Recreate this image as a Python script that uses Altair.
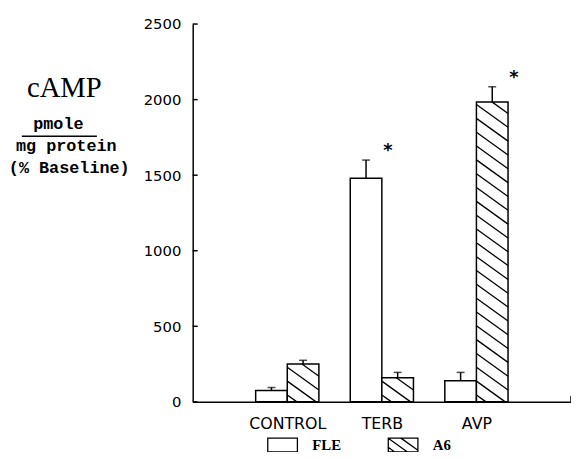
import altair as alt
import pandas as pd

# ---- data ----
groups = ["CONTROL", "TERB", "AVP"]
series = ["FLE", "A6"]
fle_mean = [75, 1480, 140]
fle_err = [20, 120, 55]
a6_mean = [250, 160, 1985]
a6_err = [25, 35, 100]
fle_sig = ["", "*", ""]
a6_sig = ["", "", "*"]
y_ticks = [0, 500, 1000, 1500, 2000, 2500]
title_main = "cAMP"
title_num = "pmole"
title_den = ["mg protein", "(% Baseline)"]

# ---- layout constants ----
W, H = 383, 382.5
XMAX, YMAX = 4, 2500
KX, KY = W / XMAX, H / YMAX
BAR_PX = 32
BW = BAR_PX / KX
HATCH_GAP, HATCH_SLOPE = 14, 0.72

bars = []
for i, g in enumerate(groups):
    for s, m, e, sig, off in (("FLE", fle_mean, fle_err, fle_sig, -1),
                              ("A6", a6_mean, a6_err, a6_sig, 0)):
        x0 = i + 1 + off * BW
        bars.append({"group": g, "series": s, "x0": x0, "x1": x0 + BW,
                     "xc": x0 + BW / 2, "mean": m[i], "top": m[i] + e[i],
                     "sig": sig[i]})
bars_df = pd.DataFrame(bars)


def hatch_segments(height, width, gap, slope):
    segs = []
    c = gap / 2
    while c < height + slope * width:
        u0 = max(0.0, (c - height) / slope)
        u1 = min(width, c / slope)
        if u1 - u0 > 0.3:
            segs.append((u0, c - slope * u0, u1, c - slope * u1))
        c += gap
    return segs


hatch_rows = []
for b in bars:
    if b["series"] != "A6":
        continue
    for u0, t0, u1, t1 in hatch_segments(b["mean"] * KY, BAR_PX, HATCH_GAP, HATCH_SLOPE):
        hatch_rows.append({"x": b["x0"] + u0 / KX, "y": t0 / KY,
                           "x2": b["x0"] + u1 / KX, "y2": t1 / KY})
hatch_df = pd.DataFrame(hatch_rows)

# legend symbol paths (unit box, scaled by sqrt(size)/2)
HW, HH = 1.0, 7 / 15


def box_path(hatched):
    p = f"M{-HW},{-HH}H{HW}V{HH}H{-HW}Z"
    if hatched:
        for u0, t0, u1, t1 in hatch_segments(2 * HH, 2 * HW, 0.62, HATCH_SLOPE):
            p += f"M{u0 - HW:.3f},{HH - t0:.3f}L{u1 - HW:.3f},{HH - t1:.3f}"
    return p


shape_range = [box_path(False), box_path(True)]

xs = alt.Scale(domain=[0, XMAX], nice=False, zero=False)
ys = alt.Scale(domain=[0, YMAX], nice=False)
label_expr = "[" + ",".join(["''"] + [f"'{g}'" for g in groups]) + "][datum.value]"

base = alt.Chart(bars_df)

bar_layer = base.mark_rect(fill="white", stroke="black", strokeWidth=1.5).encode(
    x=alt.X("x0:Q", scale=xs,
            axis=alt.Axis(values=[1, 2, 3], labelExpr=label_expr, ticks=False,
                          title=None, grid=False, labelFontSize=16,
                          labelFont="DejaVu Sans", labelPadding=14)),
    x2="x1:Q",
    y=alt.Y("mean:Q", scale=ys,
            axis=alt.Axis(values=y_ticks, ticks=False, title=None, grid=False,
                          labelFontSize=15, labelFont="DejaVu Sans",
                          labelPadding=12, format="d")),
    y2=alt.datum(0),
)

hatch_layer = alt.Chart(hatch_df).mark_rule(color="black", strokeWidth=1.3).encode(
    x=alt.X("x:Q", scale=xs), x2="x2:Q",
    y=alt.Y("y:Q", scale=ys), y2="y2:Q",
)

err_layer = base.mark_rule(color="black", strokeWidth=1.5).encode(
    x=alt.X("xc:Q", scale=xs), y=alt.Y("mean:Q", scale=ys), y2="top:Q")

cap_layer = base.mark_tick(orient="horizontal", size=8, thickness=1.5,
                           color="black").encode(
    x=alt.X("xc:Q", scale=xs), y=alt.Y("top:Q", scale=ys))

star_layer = base.transform_filter("datum.sig != ''").mark_text(
    font="DejaVu Sans", fontSize=18, fontWeight="bold", color="black",
    align="center", baseline="alphabetic", dx=6, dy=-4).encode(
    x=alt.X("x1:Q", scale=xs), y=alt.Y("top:Q", scale=ys), text="sig:N")

ytick_layer = alt.Chart(pd.DataFrame({"v": y_ticks})).mark_rule(
    color="black", strokeWidth=1.5).encode(
    x=alt.value(0), x2=alt.value(5), y=alt.Y("v:Q", scale=ys))

end_tick = alt.Chart(pd.DataFrame({"v": [XMAX]})).mark_rule(
    color="black", strokeWidth=1.5).encode(
    x=alt.X("v:Q", scale=xs), y=alt.value(H), y2=alt.value(H - 6))

legend_layer = base.mark_point(opacity=0, filled=False, color="black").encode(
    x=alt.X("xc:Q", scale=xs), y=alt.Y("mean:Q", scale=ys),
    shape=alt.Shape("series:N",
                    scale=alt.Scale(domain=series, range=shape_range),
                    legend=alt.Legend(title=None, orient="none", legendX=75,
                                      legendY=410, direction="horizontal",
                                      columns=2, columnPadding=44,
                                      symbolSize=900, symbolStrokeWidth=1.3,
                                      symbolStrokeColor="black",
                                      symbolOpacity=1, symbolType="square",
                                      labelFont="Liberation Serif",
                                      labelFontWeight="bold", labelFontSize=15,
                                      labelColor="black", labelOffset=14,
                                      padding=0)),
)


def text_layer(t, x, y, font, size, weight="normal"):
    return alt.Chart(pd.DataFrame({"t": [t]})).mark_text(
        font=font, fontSize=size, fontWeight=weight, color="black",
        align="center", baseline="alphabetic").encode(
        x=alt.value(x), y=alt.value(y), text="t:N")


title_layers = [
    text_layer(title_main, -130, 73.5, "Liberation Serif", 29),
    text_layer(title_num, -136, 106, "Liberation Mono", 17, "bold"),
    text_layer(title_den[0], -128, 128.5, "Liberation Mono", 17, "bold"),
    text_layer(title_den[1], -125, 150.5, "Liberation Mono", 17, "bold"),
]
frac_rule = alt.Chart(pd.DataFrame({"v": [0]})).mark_rule(
    color="black", strokeWidth=1.5).encode(
    x=alt.value(-173), x2=alt.value(-97), y=alt.value(113.5))

chart = alt.layer(
    bar_layer, hatch_layer, err_layer, cap_layer, star_layer, ytick_layer,
    end_tick, legend_layer, frac_rule, *title_layers
).properties(
    width=W, height=H,
    autosize=alt.AutoSizeParams(type="none"),
    padding={"left": 187, "top": 13.5, "right": 0, "bottom": 48},
).configure_view(stroke=None).configure_axis(
    domainColor="black", domainWidth=1.5, labelColor="black"
)

chart.save("out.html", embed_options={"renderer": "svg", "actions": False})
